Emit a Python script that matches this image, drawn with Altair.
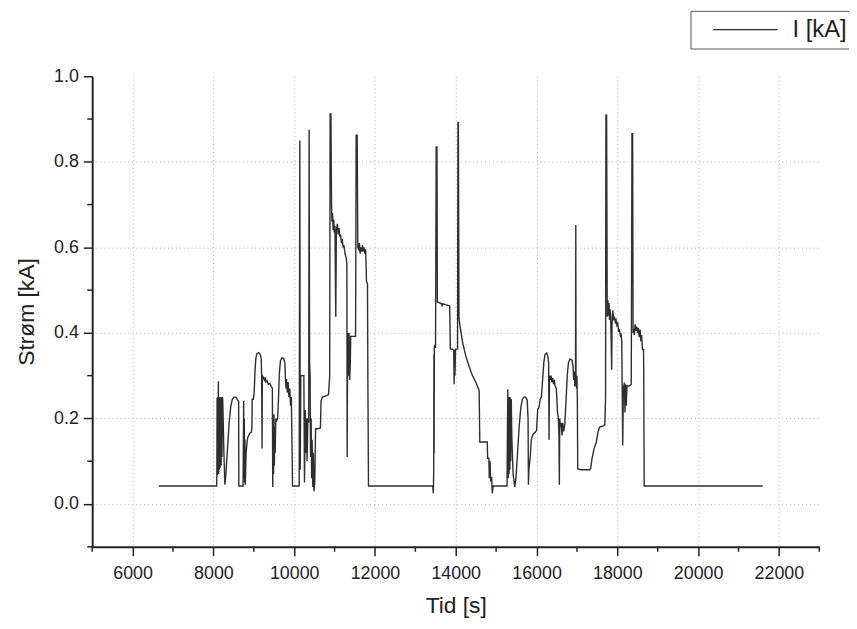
import altair as alt
import pandas as pd

# Time [s] and current [kA]
tid = [
    6650, 8080, 8086, 8092, 8100, 8110, 8118, 8124, 8132, 8142, 8152, 8162, 8172, 8182, 8192, 8202,
    8212, 8222, 8232, 8260, 8285,
    8310, 8350, 8390, 8430, 8470, 8510, 8560, 8600, 8625, 8630, 8735, 8750, 8758, 8766, 8774, 8782,
    8790, 8810, 8840, 8857, 8900, 8940, 8955, 8960, 8990,
    9010, 9030, 9050, 9080, 9120, 9160, 9185, 9195, 9205, 9212, 9240, 9260, 9280, 9300, 9330, 9360,
    9400, 9430, 9460, 9470, 9480, 9490, 9500, 9510, 9520, 9530, 9545, 9570, 9590,
    9610, 9630, 9660, 9700, 9740, 9770, 9785, 9800, 9810, 9830, 9850, 9870, 9890, 9910, 9930, 9945,
    9960, 10124,
    10140, 10150, 10165, 10240, 10255, 10275, 10290, 10305, 10320, 10340, 10360, 10370, 10382, 10395,
    10405, 10420, 10432, 10445, 10460, 10475, 10490, 10510, 10530, 10580, 10650, 10665, 10700, 10780,
    10850, 10880, 10890, 10910, 10925, 10935, 10950, 10965, 10980, 10995, 11010, 11030, 11045, 11070,
    11090, 11110, 11130, 11150, 11170, 11190, 11210, 11230, 11260, 11290, 11305, 11312, 11325, 11340,
    11360, 11375, 11390, 11400, 11520, 11535, 11560, 11575, 11600, 11615, 11635, 11650, 11670, 11690,
    11710, 11730, 11750, 11770, 11790, 11815, 11825, 11840,
    13430, 13445, 13455, 13460, 13465, 13470, 13480, 13500, 13516, 13535, 13545, 13600, 13650, 13665,
    13680, 13750, 13850, 13867, 13920, 13950, 13960, 13970, 13980, 13995, 14045, 14055, 14065, 14080,
    14100, 14170, 14250, 14330, 14415, 14500, 14580, 14595, 14780, 14790, 14820, 14830, 14850, 14865,
    14890, 14905, 14925,
    15270, 15280, 15290, 15300, 15310, 15320, 15330, 15340, 15350, 15360, 15375, 15390, 15420, 15461,
    15490, 15530, 15570, 15610, 15650, 15690, 15730, 15770, 15790, 15800, 15810, 15845, 15870, 15900,
    15930, 15970, 16000, 16030, 16060, 16090, 16120,
    16150, 16180, 16210, 16250, 16280, 16300, 16310, 16320, 16340, 16360, 16380, 16400, 16420, 16440,
    16460, 16490, 16520, 16540, 16555, 16565, 16575, 16590, 16610, 16630, 16650, 16670, 16700,
    16730, 16760, 16790, 16830, 16880, 16905, 16920, 16935, 16950, 16965, 16972, 16978, 16990, 17000,
    17010, 17020, 17100, 17200, 17316, 17341, 17374, 17423, 17480, 17521, 17562, 17643, 17690, 17709,
    17718, 17735, 17750, 17766, 17780, 17795, 17807, 17820, 17835, 17848, 17860, 17870, 17889, 17910,
    17930, 17950, 17970, 17990, 18011, 18030, 18052, 18075, 18093, 18110, 18134, 18150, 18175, 18190,
    18205, 18220, 18240, 18256, 18297, 18345, 18363, 18379, 18390, 18403, 18420, 18440, 18461, 18480,
    18502, 18520, 18543, 18565, 18584, 18600, 18624, 18649, 18655, 18665, 21600,
]
strom = [
    0.042, 0.042, 0.070, 0.249, 0.068, 0.250, 0.075, 0.287, 0.070, 0.250, 0.080, 0.248, 0.085, 0.250, 0.090, 0.249,
    0.110, 0.250, 0.245, 0.120, 0.045,
    0.070, 0.130, 0.190, 0.228, 0.245, 0.250, 0.250, 0.243, 0.240, 0.042, 0.042, 0.241, 0.060, 0.200, 0.050, 0.150,
    0.045, 0.120, 0.150, 0.157, 0.165, 0.168, 0.180, 0.245, 0.245,
    0.260, 0.310, 0.340, 0.352, 0.354, 0.350, 0.340, 0.300, 0.130, 0.300, 0.295, 0.290, 0.296, 0.285, 0.288, 0.280,
    0.282, 0.275, 0.270, 0.040, 0.200, 0.070, 0.210, 0.090, 0.180, 0.120, 0.200, 0.195, 0.200,
    0.240, 0.300, 0.335, 0.342, 0.340, 0.330, 0.290, 0.270, 0.292, 0.260, 0.285, 0.250, 0.270, 0.230, 0.250, 0.150,
    0.042, 0.042,
    0.850, 0.080, 0.300, 0.300, 0.050, 0.220, 0.120, 0.200, 0.100, 0.200, 0.190, 0.875, 0.330, 0.300,
    0.110, 0.200, 0.060, 0.150, 0.040, 0.120, 0.030, 0.050, 0.176, 0.176, 0.178, 0.241, 0.250, 0.252,
    0.256, 0.300, 0.912, 0.912, 0.700, 0.660, 0.680, 0.640, 0.665, 0.635, 0.650, 0.438, 0.640, 0.655,
    0.630, 0.645, 0.625, 0.630, 0.610, 0.620, 0.600, 0.605, 0.585, 0.575, 0.560, 0.110, 0.400, 0.300,
    0.400, 0.290, 0.330, 0.392, 0.392, 0.862, 0.862, 0.600, 0.595, 0.610, 0.585, 0.600, 0.590, 0.605,
    0.590, 0.600, 0.585, 0.595, 0.520, 0.515, 0.290, 0.042,
    0.042, 0.025, 0.080, 0.350, 0.120, 0.368, 0.370, 0.368, 0.835, 0.835, 0.472, 0.470, 0.468, 0.462,
    0.468, 0.466, 0.463, 0.362, 0.362, 0.360, 0.280, 0.360, 0.300, 0.362, 0.362, 0.892, 0.892, 0.435,
    0.420, 0.378, 0.345, 0.322, 0.300, 0.284, 0.265, 0.145, 0.145, 0.107, 0.107, 0.060, 0.100, 0.056,
    0.060, 0.025, 0.042,
    0.042, 0.180, 0.268, 0.060, 0.250, 0.070, 0.250, 0.080, 0.249, 0.100, 0.245, 0.150, 0.070, 0.040,
    0.060, 0.120, 0.180, 0.225, 0.245, 0.250, 0.250, 0.243, 0.200, 0.045, 0.080, 0.110, 0.150, 0.160,
    0.165, 0.168, 0.172, 0.222, 0.225, 0.245, 0.250,
    0.290, 0.330, 0.350, 0.353, 0.345, 0.330, 0.150, 0.300, 0.290, 0.300, 0.285, 0.295, 0.280, 0.290,
    0.276, 0.270, 0.214, 0.200, 0.160, 0.045, 0.200, 0.180, 0.190, 0.160, 0.190, 0.170, 0.185,
    0.240, 0.300, 0.330, 0.339, 0.336, 0.320, 0.290, 0.310, 0.275, 0.300, 0.652, 0.300, 0.270, 0.300,
    0.250, 0.082, 0.080, 0.080, 0.080, 0.083, 0.106, 0.129, 0.145, 0.168, 0.180, 0.182, 0.185, 0.250,
    0.909, 0.909, 0.438, 0.476, 0.440, 0.470, 0.430, 0.455, 0.440, 0.380, 0.314, 0.420, 0.453, 0.430,
    0.438, 0.425, 0.430, 0.418, 0.422, 0.405, 0.407, 0.395, 0.399, 0.380, 0.137, 0.270, 0.284, 0.214,
    0.280, 0.230, 0.276, 0.276, 0.276, 0.280, 0.866, 0.866, 0.400, 0.410, 0.395, 0.420, 0.405, 0.415,
    0.400, 0.412, 0.390, 0.408, 0.380, 0.395, 0.361, 0.361, 0.290, 0.042, 0.042,
]
series_name = "I [kA]"
x_major = [6000, 8000, 10000, 12000, 14000, 16000, 18000, 20000, 22000]
x_minor = [5000, 7000, 9000, 11000, 13000, 15000, 17000, 19000, 21000, 23000]
y_major = [0.0, 0.2, 0.4, 0.6, 0.8, 1.0]
y_minor = [-0.1, 0.1, 0.3, 0.5, 0.7, 0.9]

FONT = "Liberation Sans"
W, H = 734, 475

df = pd.DataFrame({"t": tid, "I": strom, "serie": series_name, "idx": list(range(len(tid)))})
xs = alt.Scale(domain=[5000, 23000], nice=False, zero=False)
ys = alt.Scale(domain=[-0.1, 1.0], nice=False, zero=False)

x_axis = alt.Axis(
    values=x_major, format="d", title="Tid [s]", grid=True, gridDash=[1, 3], gridColor="#b5b5b5",
    gridWidth=1, domainColor="#222", domainWidth=2, tickColor="#222", tickWidth=1.5, tickSize=9,
    labelPadding=9, labelFont=FONT, labelFontSize=18, labelColor="#222",
    titleFont=FONT, titleFontSize=23, titleFontWeight="normal", titleColor="#222",
    titleY=48, titleBaseline="top",
)
y_axis = alt.Axis(
    values=y_major, format=".1f", title="Strøm [kA]", grid=True, gridDash=[1, 3], gridColor="#b5b5b5",
    gridWidth=1, gridOpacity={"condition": {"test": "datum.value >= 0.99", "value": 0}, "value": 1},
    domainColor="#222", domainWidth=2, tickColor="#222", tickWidth=1.5, tickSize=9,
    labelPadding=5, labelFont=FONT, labelFontSize=18, labelColor="#222",
    titleFont=FONT, titleFontSize=23, titleFontWeight="normal", titleColor="#222",
    titleX=-54, titleY=H / 2,
)

line = alt.Chart(df).mark_line(strokeWidth=1.4, interpolate="linear").encode(
    x=alt.X("t:Q", scale=xs, axis=x_axis),
    y=alt.Y("I:Q", scale=ys, axis=y_axis),
    order="idx:Q",
    color=alt.Color(
        "serie:N",
        scale=alt.Scale(domain=[series_name], range=["#2e2e2e"]),
        legend=alt.Legend(
            title=None, orient="none", legendX=604, legendY=-66,
            symbolType="M0.6,0H10.6", symbolSize=169, symbolStrokeWidth=1.3,
            labelFont=FONT, labelFontSize=24, labelColor="#222", labelOffset=72,
            labelExpr="datum.label + '\u00a0\u00a0\u00a0'",
            strokeColor="#555", fillColor="white", padding=7, cornerRadius=0,
        ),
    ),
)

xminor_df = pd.DataFrame({"t": x_minor})
yminor_df = pd.DataFrame({"v": y_minor})

xminor = alt.Chart(xminor_df).mark_rule(color="#222", strokeWidth=1.5).encode(
    x=alt.X("t:Q", scale=xs), y=alt.value(H), y2=alt.value(H + 5)
)
yminor = alt.Chart(yminor_df).mark_rule(color="#222", strokeWidth=1.5).encode(
    y=alt.Y("v:Q", scale=ys), x=alt.value(0), x2=alt.value(-5)
)

chart = alt.layer(line, xminor, yminor).properties(
    width=W, height=H,
    autosize=alt.AutoSizeParams(type="none"),
    padding={"left": 85, "top": 66, "right": 30, "bottom": 70},
    background="white",
).configure_view(strokeWidth=0)

chart.save("out.html", embed_options={"renderer": "svg", "actions": False})
